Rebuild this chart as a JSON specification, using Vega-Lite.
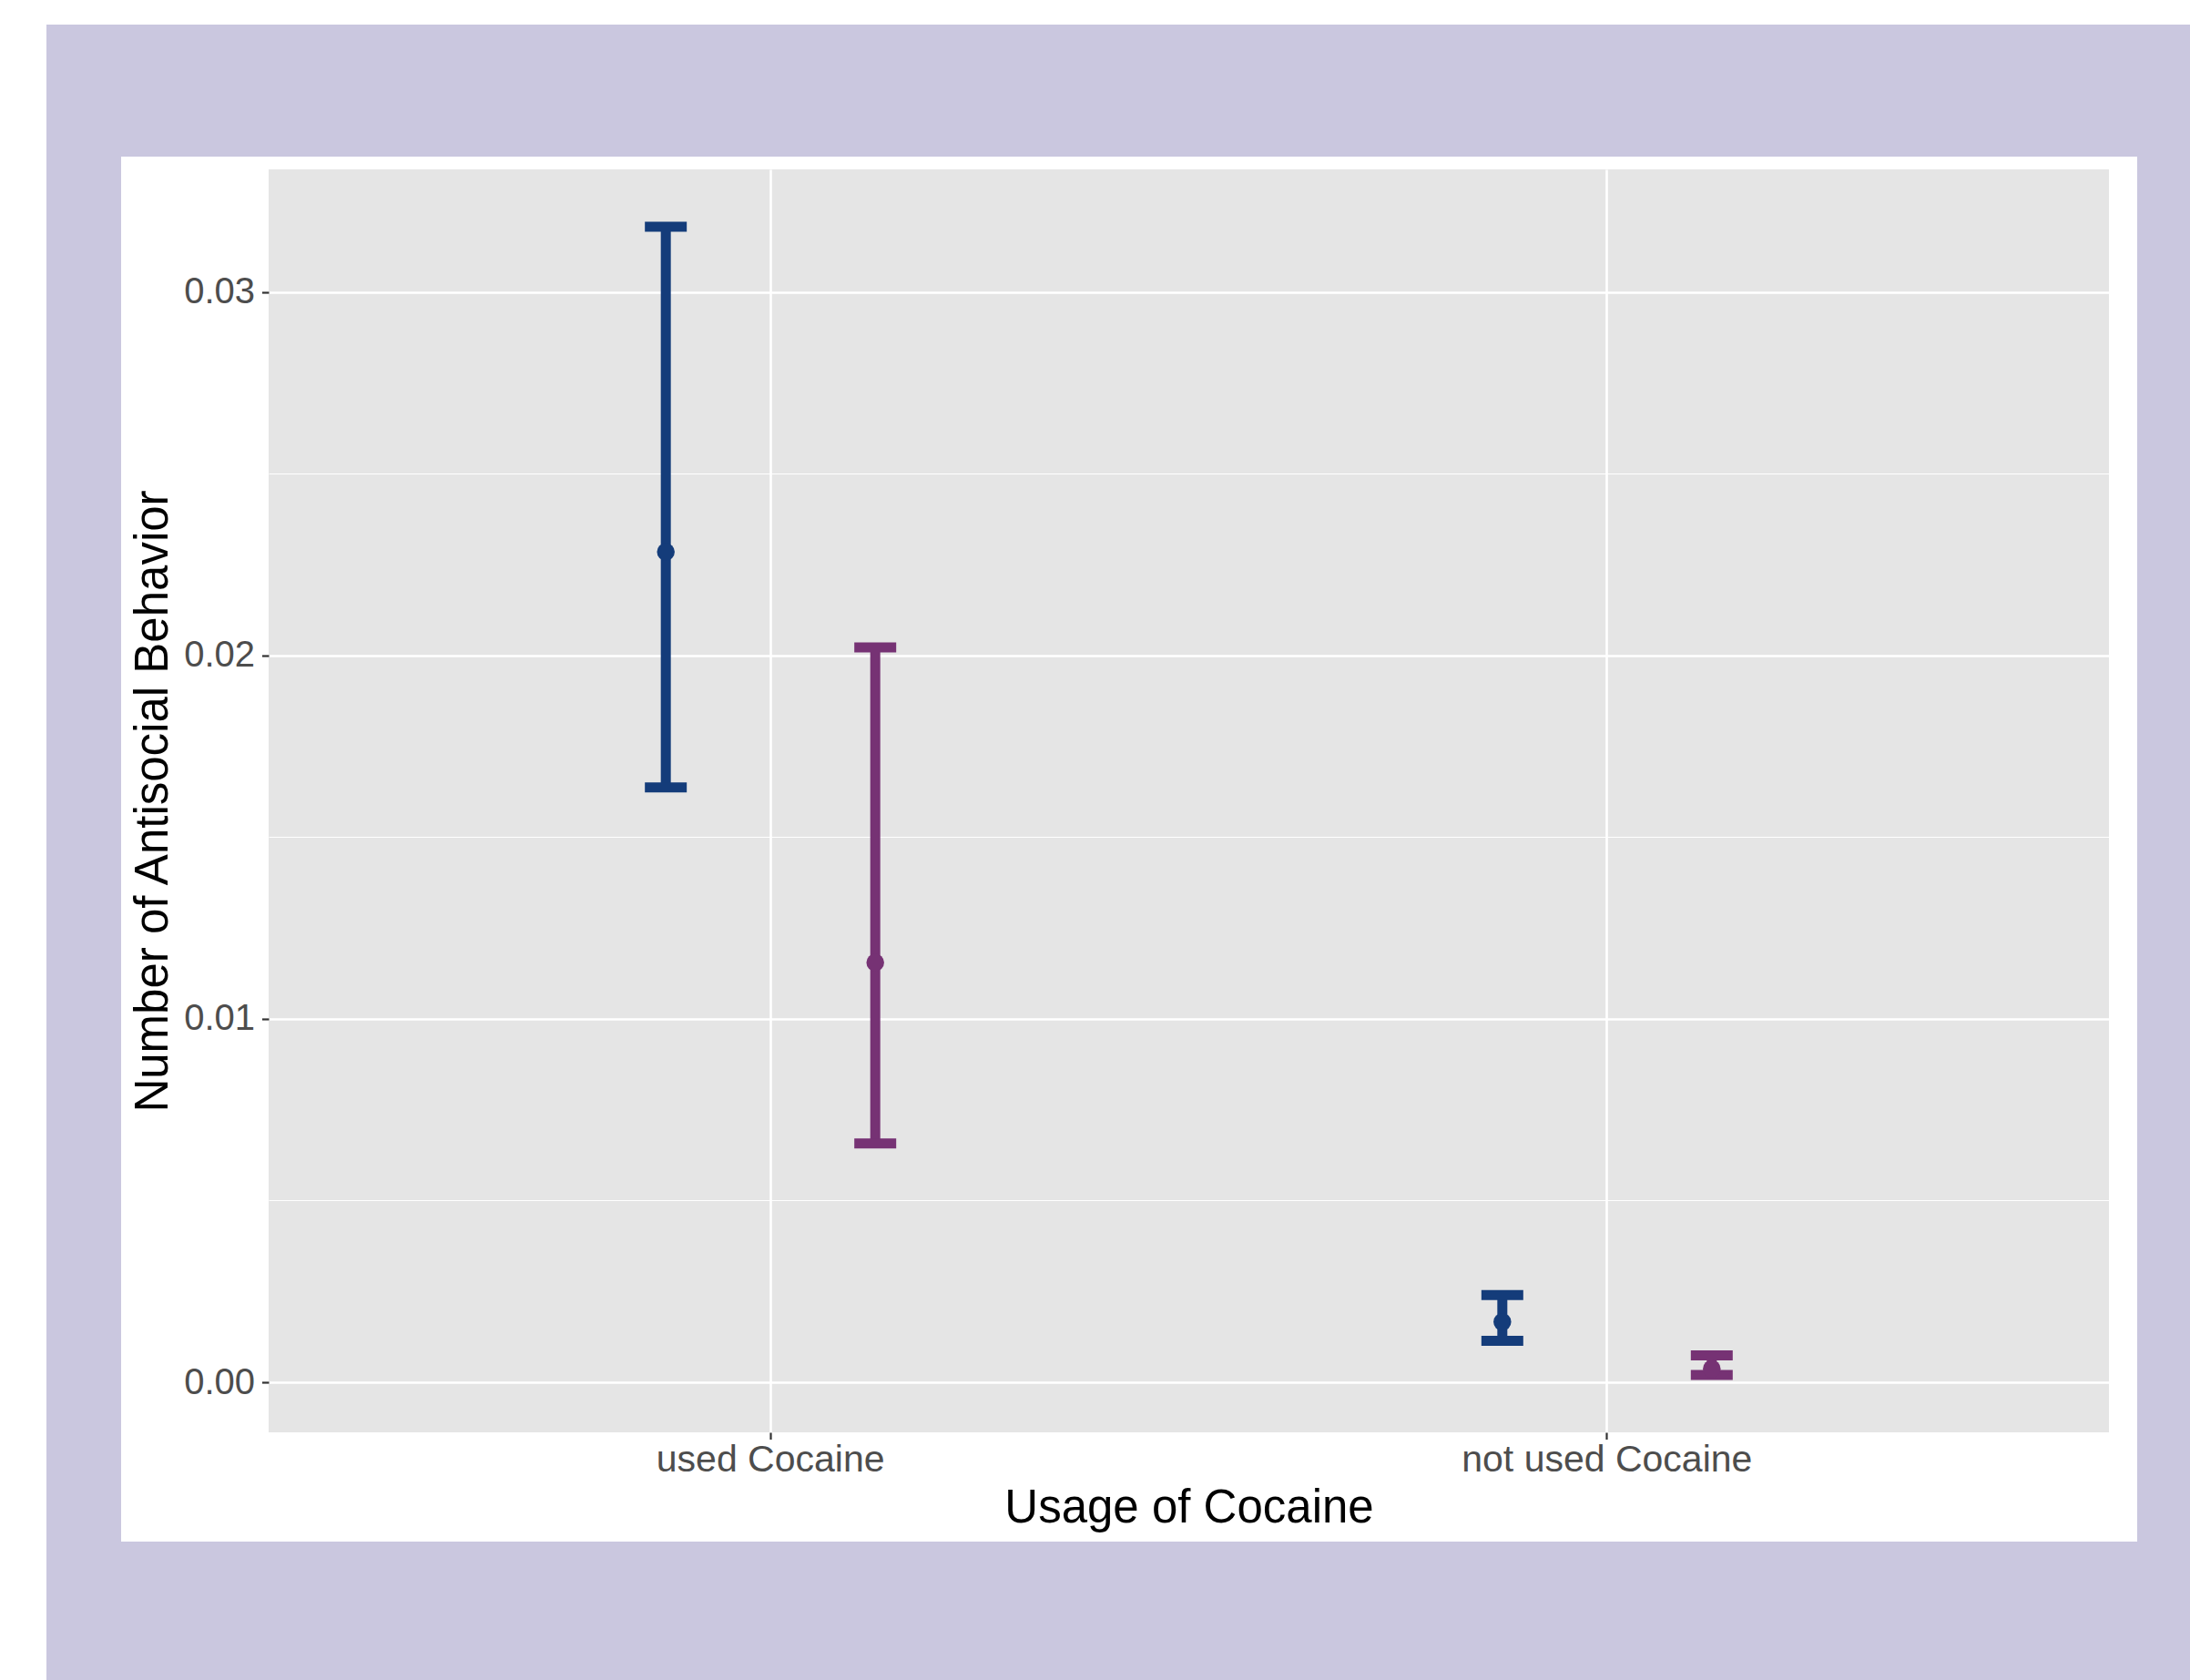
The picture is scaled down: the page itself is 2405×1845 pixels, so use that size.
{
  "$schema": "https://vega.github.io/schema/vega-lite/v6.json",
  "width": 2021,
  "height": 1387,
  "autosize": {"type": "none"},
  "padding": {"left": 295, "top": 186, "right": 89, "bottom": 272},
  "background": "#CAC7DF",
  "config": {
    "view": {"fill": "#E5E5E5", "stroke": null},
    "font": "Liberation Sans",
    "axisY": {
      "labelFont": "Liberation Sans", "labelFontSize": 40, "labelColor": "#4D4D4D", "labelPadding": 8,
      "tickColor": "#333333", "tickSize": 7.5, "tickWidth": 2.2, "domain": false,
      "titleFont": "Liberation Sans", "titleFontSize": 51, "titleFontWeight": "normal", "titleColor": "black", "titlePadding": 7
    }
  },
  "resolve": {"scale": {"x": "independent", "y": "independent"}},
  "layer": [
    {
      "data": {"values": [{}]},
      "layer": [
        {
          "mark": {"type": "rect", "fill": "white", "strokeWidth": 0},
          "encoding": {
            "x": {"datum": -0.2, "type": "quantitative", "scale": {"domain": [0, 1], "nice": false, "zero": false}, "axis": null},
            "x2": {"datum": 1.1},
            "y": {"datum": 0.045, "type": "quantitative", "scale": {"domain": [-0.001378, 0.033376], "nice": false, "zero": false},
              "axis": {"orient": "left", "grid": true, "gridColor": "white",
                "gridWidth": {"condition": {"test": "round(datum.value*200) % 2 === 0", "value": 2.4}, "value": 1.2},
                "values": [0, 0.005, 0.01, 0.015, 0.02, 0.025, 0.03],
                "labels": false, "ticks": false, "domain": false, "title": null, "zindex": 0}},
            "y2": {"datum": 0.03736}
          }
        },
        {
          "mark": {"type": "rect", "fill": "white", "strokeWidth": 0},
          "encoding": {
            "x": {"datum": -0.2, "type": "quantitative", "axis": null},
            "x2": {"datum": -0.120732},
            "y": {"datum": 0.045, "type": "quantitative",
              "axis": {"orient": "left", "grid": true, "gridColor": "white",
                "gridWidth": {"condition": {"test": "round(datum.value*200) % 2 === 0", "value": 2.4}, "value": 1.2},
                "values": [0, 0.005, 0.01, 0.015, 0.02, 0.025, 0.03],
                "labels": false, "ticks": false, "domain": false, "title": null, "zindex": 0}},
            "y2": {"datum": -0.015}
          }
        },
        {
          "mark": {"type": "rect", "fill": "white", "strokeWidth": 0},
          "encoding": {
            "x": {"datum": -0.080158, "type": "quantitative", "axis": null},
            "x2": {"datum": 0},
            "y": {"datum": 0.033727, "type": "quantitative",
              "axis": {"orient": "left", "grid": true, "gridColor": "white",
                "gridWidth": {"condition": {"test": "round(datum.value*200) % 2 === 0", "value": 2.4}, "value": 1.2},
                "values": [0, 0.005, 0.01, 0.015, 0.02, 0.025, 0.03],
                "labels": false, "ticks": false, "domain": false, "title": null, "zindex": 0}},
            "y2": {"datum": -0.004385}
          }
        },
        {
          "mark": {"type": "rect", "fill": "white", "strokeWidth": 0},
          "encoding": {
            "x": {"datum": 1, "type": "quantitative", "axis": null},
            "x2": {"datum": 1.015339},
            "y": {"datum": 0.033727, "type": "quantitative",
              "axis": {"orient": "left", "grid": true, "gridColor": "white",
                "gridWidth": {"condition": {"test": "round(datum.value*200) % 2 === 0", "value": 2.4}, "value": 1.2},
                "values": [0, 0.005, 0.01, 0.015, 0.02, 0.025, 0.03],
                "labels": false, "ticks": false, "domain": false, "title": null, "zindex": 0}},
            "y2": {"datum": -0.004385}
          }
        },
        {
          "mark": {"type": "rect", "fill": "white", "strokeWidth": 0},
          "encoding": {
            "x": {"datum": 0, "type": "quantitative", "axis": null},
            "x2": {"datum": 1},
            "y": {"datum": 0.033727, "type": "quantitative",
              "axis": {"orient": "left", "grid": true, "gridColor": "white",
                "gridWidth": {"condition": {"test": "round(datum.value*200) % 2 === 0", "value": 2.4}, "value": 1.2},
                "values": [0, 0.005, 0.01, 0.015, 0.02, 0.025, 0.03],
                "labels": false, "ticks": false, "domain": false, "title": null, "zindex": 0}},
            "y2": {"datum": 0.033376}
          }
        },
        {
          "mark": {"type": "rect", "fill": "white", "strokeWidth": 0},
          "encoding": {
            "x": {"datum": 0, "type": "quantitative", "axis": null},
            "x2": {"datum": 1},
            "y": {"datum": -0.001378, "type": "quantitative",
              "axis": {"orient": "left", "grid": true, "gridColor": "white",
                "gridWidth": {"condition": {"test": "round(datum.value*200) % 2 === 0", "value": 2.4}, "value": 1.2},
                "values": [0, 0.005, 0.01, 0.015, 0.02, 0.025, 0.03],
                "labels": false, "ticks": false, "domain": false, "title": null, "zindex": 0}},
            "y2": {"datum": -0.004385}
          }
        }
      ]
    },
    {
      "data": {
        "values": [
          {"usage": "used Cocaine", "group": "Group 1", "mean": 0.02285, "lo": 0.01637, "hi": 0.0318},
          {"usage": "used Cocaine", "group": "Group 2", "mean": 0.01155, "lo": 0.00657, "hi": 0.02022},
          {"usage": "not used Cocaine", "group": "Group 1", "mean": 0.00166, "lo": 0.00114, "hi": 0.0024},
          {"usage": "not used Cocaine", "group": "Group 2", "mean": 0.00037, "lo": 0.0002, "hi": 0.00074}
        ]
      },
      "encoding": {
        "x": {
          "field": "usage", "type": "nominal", "sort": ["used Cocaine", "not used Cocaine"],
          "scale": {"paddingInner": 0, "paddingOuter": 0.1},
          "axis": {
            "orient": "bottom", "grid": true, "gridColor": "white", "gridWidth": 2.6,
            "labelAngle": 0, "labelFont": "Liberation Sans", "labelFontSize": 41, "labelColor": "#4D4D4D",
            "labelLimit": 2000, "labelPadding": 3, "tickColor": "#333333", "tickSize": 7.5, "tickWidth": 2.2, "domain": false,
            "title": "Usage of Cocaine", "titleFont": "Liberation Sans", "titleFontSize": 51,
            "titleFontWeight": "normal", "titleColor": "black", "titlePadding": 8, "zindex": 1
          }
        },
        "xOffset": {"field": "group", "type": "nominal", "scale": {"paddingInner": 0, "paddingOuter": 0.997}},
        "color": {"field": "group", "type": "nominal", "scale": {"range": ["#143C7A", "#763274"]}, "legend": null}
      },
      "layer": [
        {
          "mark": {"type": "rule", "strokeWidth": 11},
          "encoding": {
            "y": {
              "field": "lo", "type": "quantitative",
              "scale": {"domain": [-0.001378, 0.033376], "nice": false, "zero": false},
              "axis": {"orient": "left", "grid": false, "values": [0, 0.01, 0.02, 0.03], "format": ".2f",
                "title": "Number of Antisocial Behavior", "zindex": 1}
            },
            "y2": {"field": "hi"}
          }
        },
        {
          "mark": {"type": "tick", "orient": "horizontal", "thickness": 11, "size": 46, "opacity": 1},
          "encoding": {"y": {"field": "lo", "type": "quantitative",
            "axis": {"orient": "left", "grid": false, "values": [0, 0.01, 0.02, 0.03], "format": ".2f",
              "title": "Number of Antisocial Behavior", "zindex": 1}}}
        },
        {
          "mark": {"type": "tick", "orient": "horizontal", "thickness": 11, "size": 46, "opacity": 1},
          "encoding": {"y": {"field": "hi", "type": "quantitative",
            "axis": {"orient": "left", "grid": false, "values": [0, 0.01, 0.02, 0.03], "format": ".2f",
              "title": "Number of Antisocial Behavior", "zindex": 1}}}
        },
        {
          "mark": {"type": "point", "filled": true, "size": 380, "opacity": 1},
          "encoding": {"y": {"field": "mean", "type": "quantitative",
            "axis": {"orient": "left", "grid": false, "values": [0, 0.01, 0.02, 0.03], "format": ".2f",
              "title": "Number of Antisocial Behavior", "zindex": 1}}}
        }
      ]
    }
  ]
}
